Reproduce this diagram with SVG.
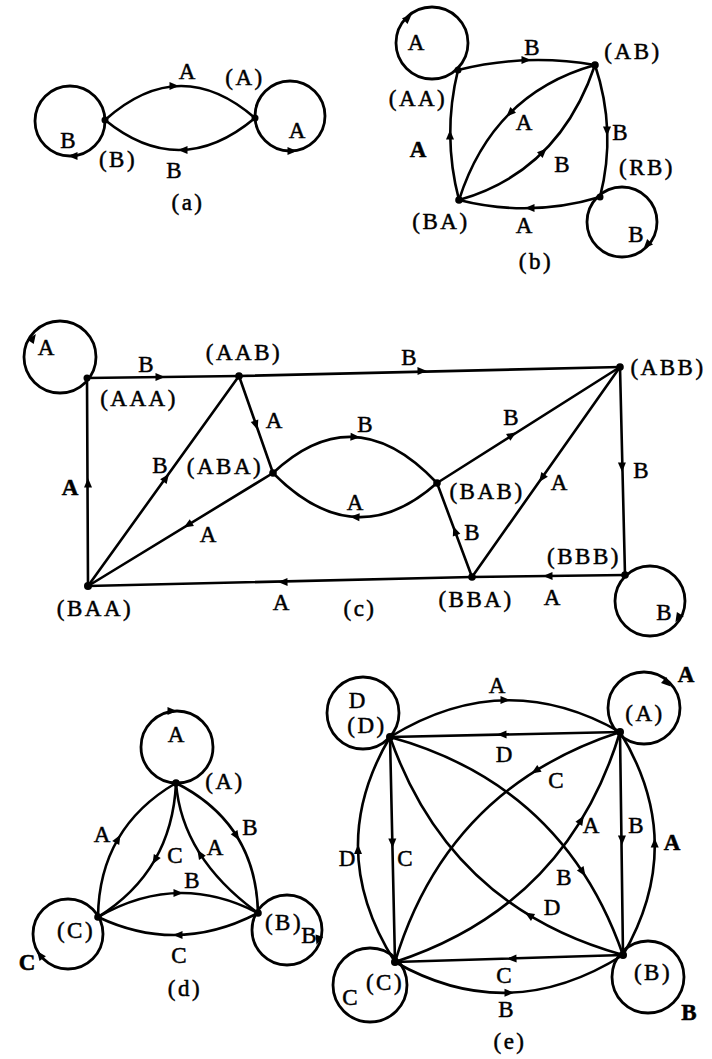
<svg xmlns="http://www.w3.org/2000/svg" xmlns:xlink="http://www.w3.org/1999/xlink" width="712" height="1059" viewBox="0 0 712 1059">
<style>
.e{fill:none;stroke:#000;stroke-width:2.6;stroke-linecap:round}
.lp{fill:none;stroke:#000;stroke-width:2.8}
.dot{fill:#000}
.t{font-family:"Liberation Serif","Times New Roman",serif;font-size:23px;fill:#000;stroke:#000;stroke-width:0.5;text-anchor:middle}
.p{letter-spacing:2.5px}
.b{font-weight:bold}
</style>
<defs>
<path id="ah" d="M5,0 L-4.5,-4 L-4.5,4 Z" fill="#000"/>
</defs>
<rect width="712" height="1059" fill="#fff"/>

<!-- (a) -->
<g id="a-connectors">
<path class="e" d="M105,120 Q180,53 255,118"/>
<path class="e" d="M255,118 Q180,181 105,120"/>
<use xlink:href="#ah" transform="translate(174,86) rotate(0)"/>
<use xlink:href="#ah" transform="translate(183,150) rotate(180)"/>
<use xlink:href="#ah" transform="translate(73,156) rotate(180)"/>
<use xlink:href="#ah" transform="translate(292,151) rotate(0)"/>
<text class="t" x="187" y="79">A</text>
<text class="t" x="174" y="178">B</text>
</g>
<g id="a-B">
<circle class="lp" cx="70" cy="121" r="35"/>
<circle class="dot" cx="105" cy="120" r="3.5"/>
<text class="t" x="68" y="148">B</text>
<text class="t p" x="118" y="167">(B)</text>
</g>
<g id="a-A">
<circle class="lp" cx="290" cy="116" r="35"/>
<circle class="dot" cx="255" cy="118" r="3.5"/>
<text class="t p" x="245" y="85">(A)</text>
<text class="t" x="297" y="138">A</text>
</g>
<text class="t p" x="188" y="210">(a)</text>

<!-- (b) -->
<g id="b-connectors">
<path class="e" d="M458,70 Q526,53 595,65"/>
<path class="e" d="M459,200 Q442,135 458,70"/>
<path class="e" d="M595,65 Q617,131 600,197"/>
<path class="e" d="M600,197 Q530,218 459,200"/>
<path class="e" d="M595,65 Q493,93.5 459,200"/>
<path class="e" d="M459,200 Q559,171.5 595,65"/>
<use xlink:href="#ah" transform="translate(526,60) rotate(0)"/>
<use xlink:href="#ah" transform="translate(450,135) rotate(-90)"/>
<use xlink:href="#ah" transform="translate(607,131) rotate(90)"/>
<use xlink:href="#ah" transform="translate(530,208) rotate(180)"/>
<use xlink:href="#ah" transform="translate(510,113) rotate(135)"/>
<use xlink:href="#ah" transform="translate(543,152) rotate(-45)"/>
<use xlink:href="#ah" transform="translate(408,18) rotate(-44)"/>
<use xlink:href="#ah" transform="translate(647,245) rotate(133)"/>
<text class="t" x="532" y="55">B</text>
<text class="t b" x="418" y="157">A</text>
<text class="t" x="524" y="130">A</text>
<text class="t" x="620" y="140">B</text>
<text class="t" x="562" y="172">B</text>
<text class="t" x="524" y="233">A</text>
</g>
<g id="b-AA">
<circle class="lp" cx="432" cy="43" r="36"/>
<circle class="dot" cx="458" cy="70" r="3.5"/>
<text class="t" x="416" y="50">A</text>
<text class="t p" x="418" y="106">(AA)</text>
</g>
<g id="b-AB">
<circle class="dot" cx="595" cy="65" r="3.8"/>
<text class="t p" x="633" y="59">(AB)</text>
</g>
<g id="b-BA">
<circle class="dot" cx="459" cy="200" r="3.8"/>
<text class="t p" x="441" y="229">(BA)</text>
</g>
<g id="b-BB">
<circle class="lp" cx="622" cy="222" r="35"/>
<circle class="dot" cx="600" cy="197" r="3.5"/>
<text class="t p" x="647" y="175">(RB)</text>
<text class="t" x="636" y="242">B</text>
</g>
<text class="t p" x="536" y="269">(b)</text>

<!-- (c) -->
<g id="c-connectors">
<path class="e" d="M87,378 L239,376"/>
<path class="e" d="M239,376 L620,367"/>
<path class="e" d="M239,376 L273,473"/>
<path class="e" d="M88,586 L239,376"/>
<path class="e" d="M273,473 L88,586"/>
<path class="e" d="M273,473 Q355,396 437,483"/>
<path class="e" d="M437,483 Q355,556 273,473"/>
<path class="e" d="M437,483 L620,367"/>
<path class="e" d="M620,367 L472,577"/>
<path class="e" d="M472,577 L437,483"/>
<path class="e" d="M620,367 L625,575"/>
<path class="e" d="M625,575 L472,577"/>
<path class="e" d="M472,577 L88,586"/>
<path class="e" d="M88,586 L87,378"/>
<use xlink:href="#ah" transform="translate(160,377) rotate(0)"/>
<use xlink:href="#ah" transform="translate(422,371) rotate(-1)"/>
<use xlink:href="#ah" transform="translate(256,425) rotate(70.7)"/>
<use xlink:href="#ah" transform="translate(166,478) rotate(-54.3)"/>
<use xlink:href="#ah" transform="translate(188,525) rotate(148.6)"/>
<use xlink:href="#ah" transform="translate(355,437) rotate(3)"/>
<use xlink:href="#ah" transform="translate(355,517) rotate(183)"/>
<use xlink:href="#ah" transform="translate(512,435) rotate(-32.4)"/>
<use xlink:href="#ah" transform="translate(542,478) rotate(125.2)"/>
<use xlink:href="#ah" transform="translate(455,531) rotate(-110.4)"/>
<use xlink:href="#ah" transform="translate(622,467) rotate(88.6)"/>
<use xlink:href="#ah" transform="translate(548,576) rotate(179.3)"/>
<use xlink:href="#ah" transform="translate(283,582) rotate(178.7)"/>
<use xlink:href="#ah" transform="translate(88,483) rotate(-90.3)"/>
<use xlink:href="#ah" transform="translate(33,338) rotate(-55)"/>
<use xlink:href="#ah" transform="translate(678,618) rotate(121)"/>
<text class="t" x="146" y="372">B</text>
<text class="t" x="409" y="365">B</text>
<text class="t" x="274" y="428">A</text>
<text class="t" x="160" y="473">B</text>
<text class="t b" x="70" y="495">A</text>
<text class="t" x="208" y="542">A</text>
<text class="t" x="281" y="610">A</text>
<text class="t" x="365" y="432">B</text>
<text class="t" x="355" y="510">A</text>
<text class="t" x="511" y="425">B</text>
<text class="t" x="641" y="478">B</text>
<text class="t" x="559" y="490">A</text>
<text class="t" x="472" y="540">B</text>
<text class="t" x="552" y="605">A</text>
</g>
<g id="c-AAA">
<circle class="lp" cx="60" cy="357" r="36"/>
<circle class="dot" cx="87" cy="378" r="3.5"/>
<text class="t" x="46" y="355">A</text>
<text class="t p" x="139" y="406">(AAA)</text>
</g>
<g id="c-AAB">
<circle class="dot" cx="239" cy="376" r="3.8"/>
<text class="t p" x="244" y="360">(AAB)</text>
</g>
<g id="c-ABA">
<circle class="dot" cx="273" cy="473" r="3.8"/>
<text class="t p" x="225" y="474">(ABA)</text>
</g>
<g id="c-BAA">
<circle class="dot" cx="88" cy="586" r="4"/>
<text class="t p" x="95" y="616">(BAA)</text>
</g>
<g id="c-ABB">
<circle class="dot" cx="620" cy="367" r="3.8"/>
<text class="t p" x="668" y="375">(ABB)</text>
</g>
<g id="c-BAB">
<circle class="dot" cx="437" cy="483" r="3.8"/>
<text class="t p" x="487" y="499">(BAB)</text>
</g>
<g id="c-BBA">
<circle class="dot" cx="472" cy="577" r="3.8"/>
<text class="t p" x="476" y="607">(BBA)</text>
</g>
<g id="c-BBB">
<circle class="lp" cx="650" cy="601" r="35"/>
<circle class="dot" cx="625" cy="575" r="3.8"/>
<text class="t p" x="584" y="564">(BBB)</text>
<text class="t" x="664" y="620">B</text>
</g>
<text class="t p" x="360" y="616">(c)</text>

<!-- (d) -->
<g id="d-connectors">
<path class="e" d="M98,917 Q99,828 176,783"/>
<path class="e" d="M176,783 Q172,871 98,917"/>
<path class="e" d="M176,783 Q256,823.5 258,913"/>
<path class="e" d="M258,913 Q182,858 176,783"/>
<path class="e" d="M98,917 Q178,871 258,913"/>
<path class="e" d="M258,913 Q178,955 98,917"/>
<use xlink:href="#ah" transform="translate(118,839) rotate(-59.8)"/>
<use xlink:href="#ah" transform="translate(155,860) rotate(120.2)"/>
<use xlink:href="#ah" transform="translate(236.5,836) rotate(57.8)"/>
<use xlink:href="#ah" transform="translate(200,854) rotate(-122.2)"/>
<use xlink:href="#ah" transform="translate(178,893) rotate(0)"/>
<use xlink:href="#ah" transform="translate(178,935) rotate(180)"/>
<use xlink:href="#ah" transform="translate(172,711) rotate(0)"/>
<use xlink:href="#ah" transform="translate(318,940) rotate(108)"/>
<use xlink:href="#ah" transform="translate(40,955) rotate(-127)"/>
<text class="t" x="102" y="842">A</text>
<text class="t" x="250" y="835">B</text>
<text class="t" x="175" y="863">C</text>
<text class="t" x="215" y="855">A</text>
<text class="t" x="192" y="888">B</text>
<text class="t" x="179" y="963">C</text>
</g>
<g id="d-A">
<circle class="lp" cx="177" cy="747" r="36"/>
<circle class="dot" cx="176" cy="783" r="3.8"/>
<text class="t" x="176" y="742">A</text>
<text class="t p" x="225" y="789">(A)</text>
</g>
<g id="d-B">
<circle class="lp" cx="287" cy="930" r="35"/>
<circle class="dot" cx="258" cy="913" r="3.8"/>
<text class="t p" x="284" y="930">(B)</text>
<text class="t" x="309" y="943">B</text>
</g>
<g id="d-C">
<circle class="lp" cx="68" cy="934" r="35"/>
<circle class="dot" cx="98" cy="917" r="3.8"/>
<text class="t p" x="76" y="938">(C)</text>
<text class="t b" x="27" y="970">C</text>
</g>
<text class="t p" x="185" y="996">(d)</text>

<!-- (e) -->
<g id="e-connectors">
<path class="e" d="M390,737 Q505,666 620,732"/>
<path class="e" d="M620,732 L390,737"/>
<path class="e" d="M620,732 L623,955"/>
<path class="e" d="M623,955 Q688,843 620,732"/>
<path class="e" d="M390,737 L395,962"/>
<path class="e" d="M395,962 Q323.5,849.5 390,737"/>
<path class="e" d="M623,955 L395,962"/>
<path class="e" d="M395,962 Q509,1027 623,955"/>
<path class="e" d="M620,732 Q447.5,788 395,962"/>
<path class="e" d="M395,962 Q567.5,905.7 620,732"/>
<path class="e" d="M390,737 Q564,785 623,955"/>
<path class="e" d="M623,955 Q449.5,907 390,737"/>
<use xlink:href="#ah" transform="translate(505,700) rotate(0)"/>
<use xlink:href="#ah" transform="translate(502,734.5) rotate(178.8)"/>
<use xlink:href="#ah" transform="translate(622,840) rotate(89.2)"/>
<use xlink:href="#ah" transform="translate(654.7,843) rotate(-90)"/>
<use xlink:href="#ah" transform="translate(392.4,843) rotate(88.7)"/>
<use xlink:href="#ah" transform="translate(358,849.5) rotate(-90)"/>
<use xlink:href="#ah" transform="translate(512,958.6) rotate(178.2)"/>
<use xlink:href="#ah" transform="translate(509,992.7) rotate(0)"/>
<use xlink:href="#ah" transform="translate(535.6,770.8) rotate(147.9)"/>
<use xlink:href="#ah" transform="translate(581.2,820.1) rotate(-58.5)"/>
<use xlink:href="#ah" transform="translate(582.7,872) rotate(56.7)"/>
<use xlink:href="#ah" transform="translate(529.2,915.2) rotate(-148.7)"/>
<use xlink:href="#ah" transform="translate(667,683) rotate(42.6)"/>
<text class="t" x="497" y="693">A</text>
<text class="t" x="504" y="762">D</text>
<text class="t" x="556" y="788">C</text>
<text class="t" x="591" y="833">A</text>
<text class="t" x="636" y="833">B</text>
<text class="t b" x="672" y="850">A</text>
<text class="t" x="347" y="866">D</text>
<text class="t" x="405" y="866">C</text>
<text class="t" x="564" y="885">B</text>
<text class="t" x="552" y="915">D</text>
<text class="t" x="504" y="983">C</text>
<text class="t" x="506" y="1017">B</text>
</g>
<g id="e-D">
<circle class="lp" cx="363" cy="713" r="36"/>
<circle class="dot" cx="390" cy="737" r="4"/>
<text class="t" x="357" y="708">D</text>
<text class="t p" x="367" y="733">(D)</text>
</g>
<g id="e-A">
<circle class="lp" cx="644" cy="708" r="36"/>
<circle class="dot" cx="620" cy="732" r="4"/>
<text class="t p" x="645" y="721">(A)</text>
<text class="t b" x="686" y="682">A</text>
</g>
<g id="e-C">
<circle class="lp" cx="370" cy="985" r="37"/>
<circle class="dot" cx="395" cy="962" r="4"/>
<text class="t p" x="385" y="990">(C)</text>
<text class="t" x="350" y="1005">C</text>
</g>
<g id="e-B">
<circle class="lp" cx="648" cy="977" r="36"/>
<circle class="dot" cx="623" cy="955" r="4"/>
<text class="t p" x="653" y="980">(B)</text>
<text class="t b" x="689" y="1020">B</text>
</g>
<text class="t p" x="510" y="1049">(e)</text>
</svg>
